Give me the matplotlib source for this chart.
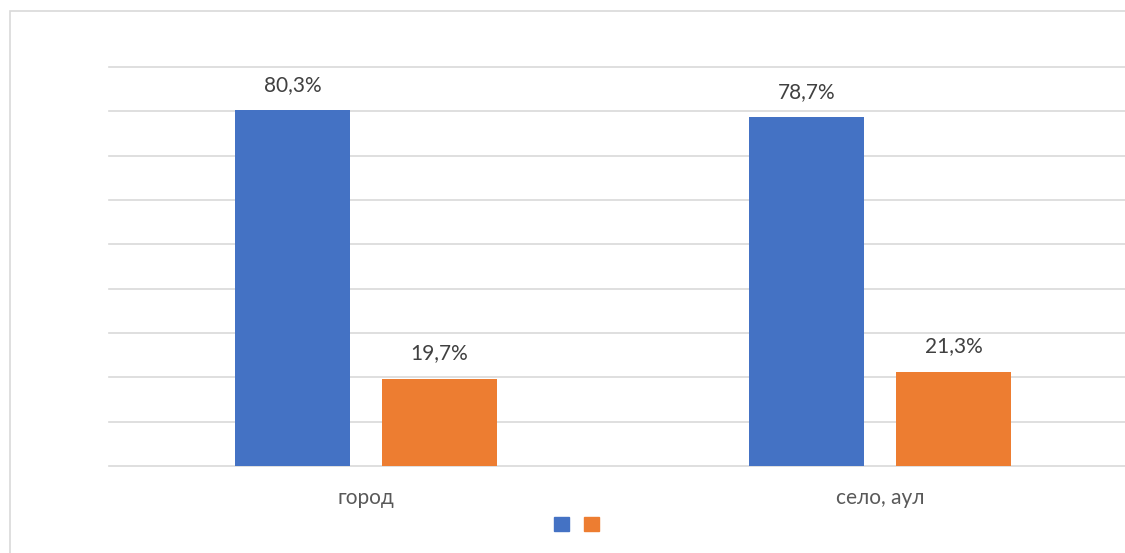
import matplotlib
matplotlib.use('Agg')
from matplotlib import pyplot as plt
from matplotlib.patches import Patch, Rectangle
import numpy as np

plt.rcParams['font.family'] = ['Lato', 'DejaVu Sans']

categories = ['город', 'село, аул']
series_a = [80.3, 78.7]
series_b = [19.7, 21.3]
labels_a = ['80,3%', '78,7%']
labels_b = ['19,7%', '21,3%']
col_a = '#4472c4'
col_b = '#ed7d31'

W, H = 1125, 553
fig = plt.figure(figsize=(W / 100, H / 100), dpi=100)
fig.patch.set_facecolor('white')

# outer chart border (cropped on the right and bottom)
fig.add_artist(Rectangle((10 / W, -0.1), 1.2, 1 - 11 / H + 0.1, transform=fig.transFigure,
                         fill=False, edgecolor='#d9d9d9', linewidth=1.2))

ax = fig.add_axes([109 / W, 87 / H, 1028 / W, 399 / H])
x = np.arange(len(categories))
bw = 0.224
off = 0.143
ba = ax.bar(x - off, series_a, bw, color=col_a, zorder=3)
bb = ax.bar(x + off, series_b, bw, color=col_b, zorder=3)

for rects, labs in ((ba, labels_a), (bb, labels_b)):
    for r, t in zip(rects, labs):
        ax.annotate(t, (r.get_x() + r.get_width() / 2, r.get_height()),
                    xytext=(0, 11), textcoords='offset points', ha='center', va='bottom',
                    fontsize=15, color='#404040')

ax.set_xlim(-0.5, 1.5)
ax.set_ylim(0, 90)
ax.set_yticks(np.arange(0, 91, 10))
ax.yaxis.grid(True, color='#d9d9d9', linewidth=1.2, zorder=0)
for gl in ax.get_ygridlines():
    gl.set_clip_on(False)
ax.tick_params(axis='y', left=False, labelleft=False)
ax.set_xticks(x)
ax.set_xticklabels(categories, fontsize=15, color='#595959')
ax.tick_params(axis='x', length=0, pad=16)
for s in ax.spines.values():
    s.set_visible(False)
ax.set_facecolor('none')

handles = [Patch(color=col_a), Patch(color=col_b)]
fig.legend(handles, ['', ''], loc='center', bbox_to_anchor=(576 / W, 1 - 525 / H), ncol=2,
           frameon=False, handlelength=0.9, handleheight=0.9, handletextpad=0.0,
           columnspacing=0.9, fontsize=12)

fig.savefig('out.png', dpi=100)
